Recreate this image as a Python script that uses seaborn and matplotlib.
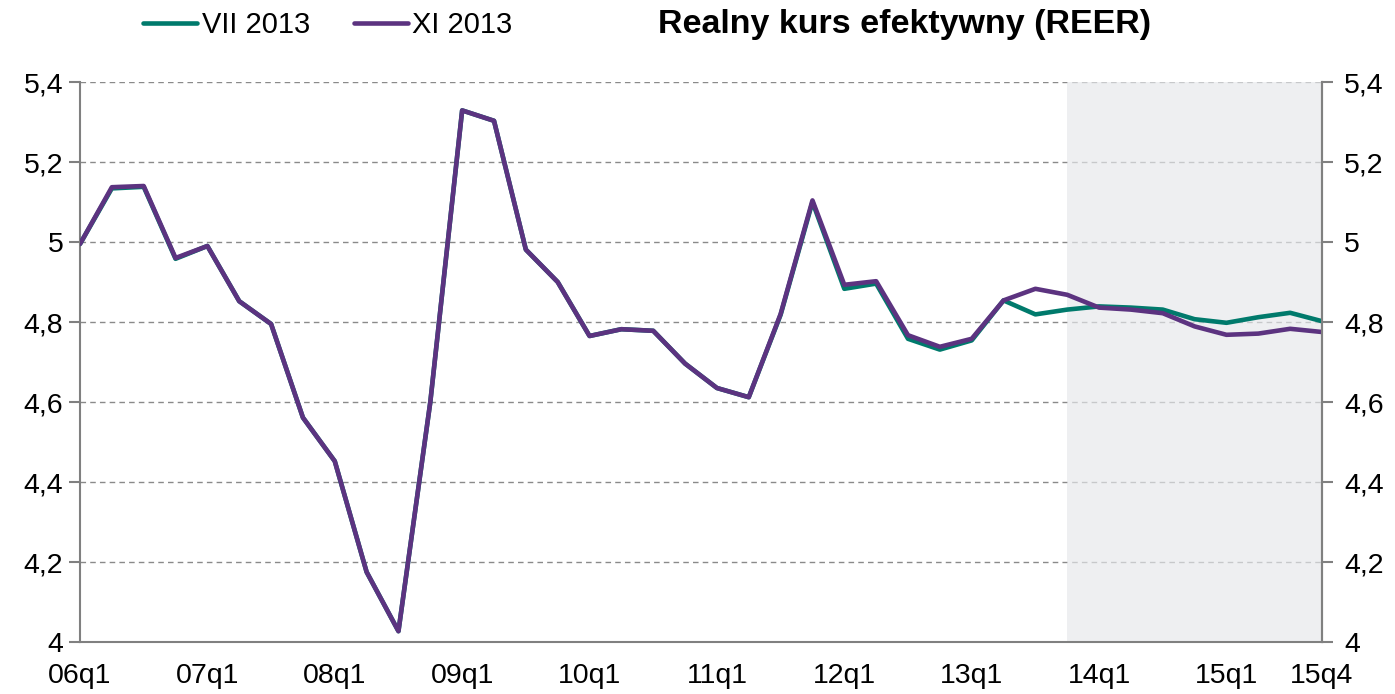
import pandas as pd
import matplotlib.pyplot as plt
import seaborn as sns
from matplotlib.ticker import FuncFormatter

# Quarter labels 06q1 .. 15q4
quarters = [f"{y:02d}q{q}" for y in range(6, 16) for q in range(1, 5)]

# Values
vii_2013 = [4.995, 5.134, 5.138, 4.958, 4.990, 4.852, 4.795, 4.561, 4.452, 4.175,
            4.027, 4.600, 5.329, 5.303, 4.981, 4.900, 4.765, 4.782, 4.778, 4.696,
            4.635, 4.612, 4.818, 5.100, 4.883, 4.896, 4.758, 4.731, 4.754, 4.854,
            4.819, 4.831, 4.839, 4.836, 4.831, 4.807, 4.798, 4.812, 4.823, 4.802]
xi_2013 = [4.995, 5.137, 5.140, 4.960, 4.990, 4.852, 4.795, 4.561, 4.452, 4.175,
           4.027, 4.600, 5.329, 5.303, 4.981, 4.900, 4.765, 4.782, 4.778, 4.696,
           4.635, 4.612, 4.820, 5.104, 4.893, 4.902, 4.767, 4.738, 4.758, 4.854,
           4.883, 4.868, 4.836, 4.831, 4.822, 4.789, 4.768, 4.771, 4.783, 4.775]

series_names = ["VII 2013", "XI 2013"]
forecast_start = "13q4"

df = pd.DataFrame({
    "idx": list(range(len(quarters))) * 2,
    "value": vii_2013 + xi_2013,
    "series": [series_names[0]] * len(quarters) + [series_names[1]] * len(quarters),
})

sns.set_style("white")
plt.rcParams['font.family'] = ['Liberation Sans', 'DejaVu Sans']
plt.rcParams['text.color'] = 'black'
plt.rcParams['xtick.labelcolor'] = 'black'
plt.rcParams['ytick.labelcolor'] = 'black'

fig = plt.figure(figsize=(13.95, 6.94), dpi=100)
ax = fig.add_axes([80 / 1395, 52 / 694, 1242 / 1395, 560 / 694])

# shaded forecast area
start = quarters.index(forecast_start)
ax.axvspan(start, len(quarters) - 1, color='#E6E8EB', alpha=0.67, lw=0, zorder=2)

sns.lineplot(data=df, x="idx", y="value", hue="series",
             palette={"VII 2013": "#007A6C", "XI 2013": "#5C3380"},
             linewidth=3.3, ax=ax, zorder=3, legend=True)

ax.set_xlim(0, len(quarters) - 1)
ax.set_ylim(4, 5.4)
yt = [4, 4.2, 4.4, 4.6, 4.8, 5.0, 5.2, 5.4]
ax.set_yticks(yt)
fmt = FuncFormatter(lambda v, p: f"{v:g}".replace(".", ","))
ax.yaxis.set_major_formatter(fmt)
ax.yaxis.grid(True, color='#8A8A8A', linestyle=(0, (4, 3)), linewidth=1)
ax.set_axisbelow(True)

major = list(range(0, len(quarters), 4)) + [len(quarters) - 1]
ax.set_xticks(major)
ax.set_xticklabels([quarters[i] for i in major])
ax.set_xticks(list(range(2, len(quarters), 4)), minor=True)
ax.tick_params(axis='x', which='major', direction='out', length=8, width=1.5,
               color='#808080', labelsize=20.5, pad=7)
ax.tick_params(axis='x', which='minor', direction='in', length=8, width=1.5,
               color='#808080')
ax.tick_params(axis='y', direction='out', length=8, width=1.5, color='#808080',
               labelsize=20.5, pad=4, left=True)
ax.set_xlabel("")
ax.set_ylabel("")

for side in ['left', 'bottom', 'right']:
    ax.spines[side].set_color('#808080')
    ax.spines[side].set_linewidth(1.5)
ax.spines['top'].set_visible(False)

ax2 = ax.twinx()
ax2.set_ylim(ax.get_ylim())
ax2.set_yticks(yt)
ax2.yaxis.set_major_formatter(fmt)
ax2.tick_params(axis='y', direction='out', length=8, width=1.5, color='#808080',
                labelsize=20.5, pad=8, right=True)
for s in ax2.spines.values():
    s.set_visible(False)
ax2.spines['right'].set_visible(True)
ax2.spines['right'].set_color('#808080')
ax2.spines['right'].set_linewidth(1.5)

handles, labels = ax.get_legend_handles_labels()
ax.legend_.remove()
fig.legend(handles, labels, loc='center left', bbox_to_anchor=(117 / 1395, 1 - 25 / 694),
           ncol=2, frameon=False, fontsize=21, handlelength=1.85, handletextpad=0.15,
           columnspacing=1.5)

fig.text(905 / 1395, 1 - 25 / 694, "Realny kurs efektywny (REER)", ha='center', va='center',
         fontsize=24.5, fontweight='bold')

fig.savefig("out.png", dpi=100)
